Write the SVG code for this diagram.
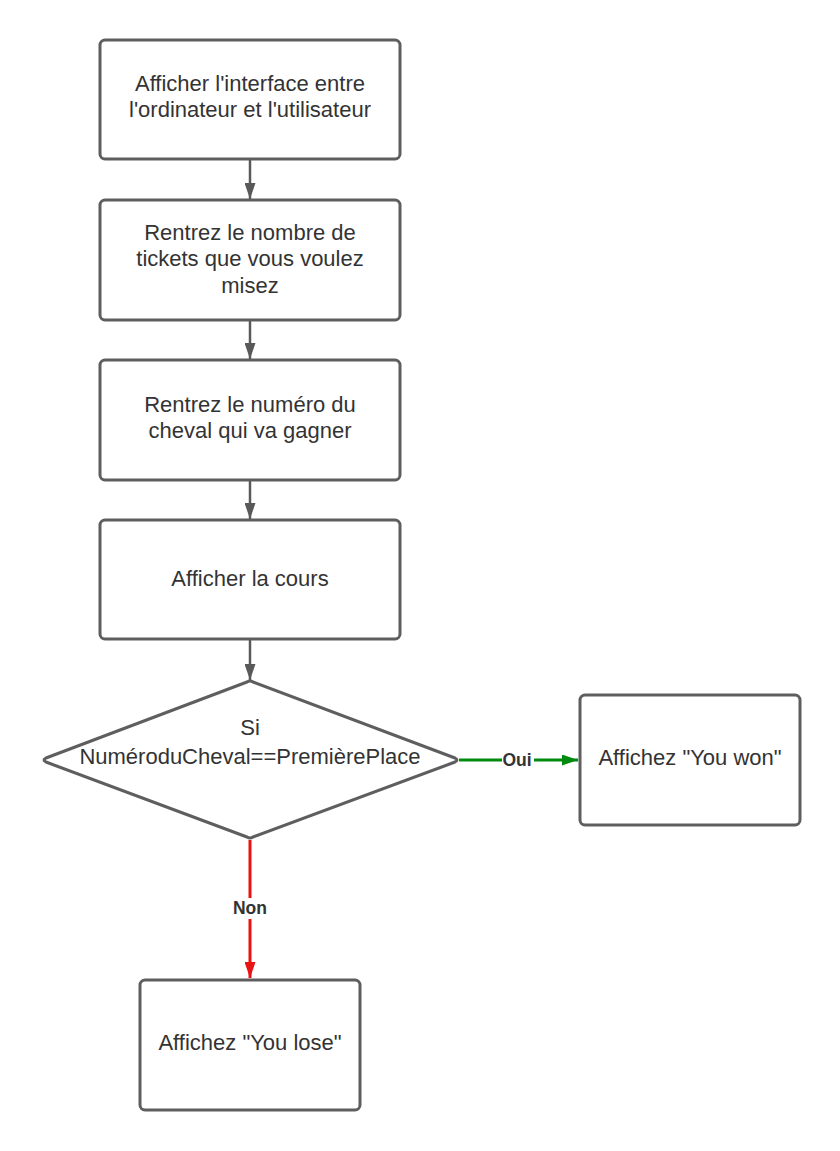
<svg xmlns="http://www.w3.org/2000/svg" width="840" height="1151" viewBox="0 0 840 1151">
  <style>
    .box { fill: #ffffff; stroke: #5e5e5e; stroke-width: 3; }
    .txt { font-family: "Liberation Sans", Arial, sans-serif; font-size: 22px; fill: #333333; text-anchor: middle; }
    .lbl { font-family: "Liberation Sans", Arial, sans-serif; font-size: 17.5px; font-weight: bold; fill: #333333; text-anchor: middle; }
    .edge { fill: none; }
  </style>
  <defs>
    <marker id="ahGray" viewBox="0 0 16 11" refX="16" refY="5.5" markerWidth="16" markerHeight="11" orient="auto" markerUnits="userSpaceOnUse">
      <path d="M0,0 L16,5.5 L0,11 z" fill="#595959"/>
    </marker>
    <marker id="ahGreen" viewBox="0 0 16 11" refX="16" refY="5.5" markerWidth="16" markerHeight="11" orient="auto" markerUnits="userSpaceOnUse">
      <path d="M0,0 L16,5.5 L0,11 z" fill="#008a0e"/>
    </marker>
    <marker id="ahRed" viewBox="0 0 16 11" refX="16" refY="5.5" markerWidth="16" markerHeight="11" orient="auto" markerUnits="userSpaceOnUse">
      <path d="M0,0 L16,5.5 L0,11 z" fill="#e81313"/>
    </marker>
  </defs>
  <rect width="840" height="1151" fill="#ffffff"/>

  <g id="connectors">
    <line class="edge" x1="250" y1="160" x2="250" y2="199" stroke="#595959" stroke-width="2.5" marker-end="url(#ahGray)"/>
    <line class="edge" x1="250" y1="321" x2="250" y2="359" stroke="#595959" stroke-width="2.5" marker-end="url(#ahGray)"/>
    <line class="edge" x1="250" y1="481" x2="250" y2="519" stroke="#595959" stroke-width="2.5" marker-end="url(#ahGray)"/>
    <line class="edge" x1="250" y1="640" x2="250" y2="680" stroke="#595959" stroke-width="2.5" marker-end="url(#ahGray)"/>
    <line class="edge" x1="459" y1="760" x2="578" y2="760" stroke="#008a0e" stroke-width="3" marker-end="url(#ahGreen)"/>
    <rect x="502" y="750" width="32" height="20" fill="#ffffff"/>
    <text class="lbl" x="517" y="766">Oui</text>
    <line class="edge" x1="250" y1="840" x2="250" y2="978" stroke="#e81313" stroke-width="3" marker-end="url(#ahRed)"/>
    <rect x="231" y="898" width="38" height="21" fill="#ffffff"/>
    <text class="lbl" x="250" y="914">Non</text>
  </g>

  <g id="node-interface">
    <rect class="box" x="100" y="40" width="300" height="119" rx="5"/>
    <text class="txt" x="250" y="91">Afficher l'interface entre</text>
    <text class="txt" x="250" y="117">l'ordinateur et l'utilisateur</text>
  </g>

  <g id="node-tickets">
    <rect class="box" x="100" y="200" width="300" height="120" rx="5"/>
    <text class="txt" x="250" y="240">Rentrez le nombre de</text>
    <text class="txt" x="250" y="266">tickets que vous voulez</text>
    <text class="txt" x="250" y="293">misez</text>
  </g>

  <g id="node-cheval">
    <rect class="box" x="100" y="360" width="300" height="120" rx="5"/>
    <text class="txt" x="250" y="412">Rentrez le numéro du</text>
    <text class="txt" x="250" y="438">cheval qui va gagner</text>
  </g>

  <g id="node-cours">
    <rect class="box" x="100" y="520" width="300" height="119" rx="5"/>
    <text class="txt" x="250" y="586">Afficher la cours</text>
  </g>

  <g id="node-decision">
    <path class="box" d="M247,682 Q250,680 253,682 L455,758 Q459,760 455,762 L253,837 Q250,839 247,837 L46,762 Q42,760 46,758 Z" stroke-linejoin="round"/>
    <text class="txt" x="250" y="735">Si</text>
    <text class="txt" x="250" y="764">NuméroduCheval==PremièrePlace</text>
  </g>

  <g id="node-won">
    <rect class="box" x="580" y="695" width="220" height="130" rx="5"/>
    <text class="txt" x="690" y="765">Affichez "You won"</text>
  </g>

  <g id="node-lose">
    <rect class="box" x="140" y="980" width="220" height="130" rx="5"/>
    <text class="txt" x="250" y="1050">Affichez "You lose"</text>
  </g>
</svg>
